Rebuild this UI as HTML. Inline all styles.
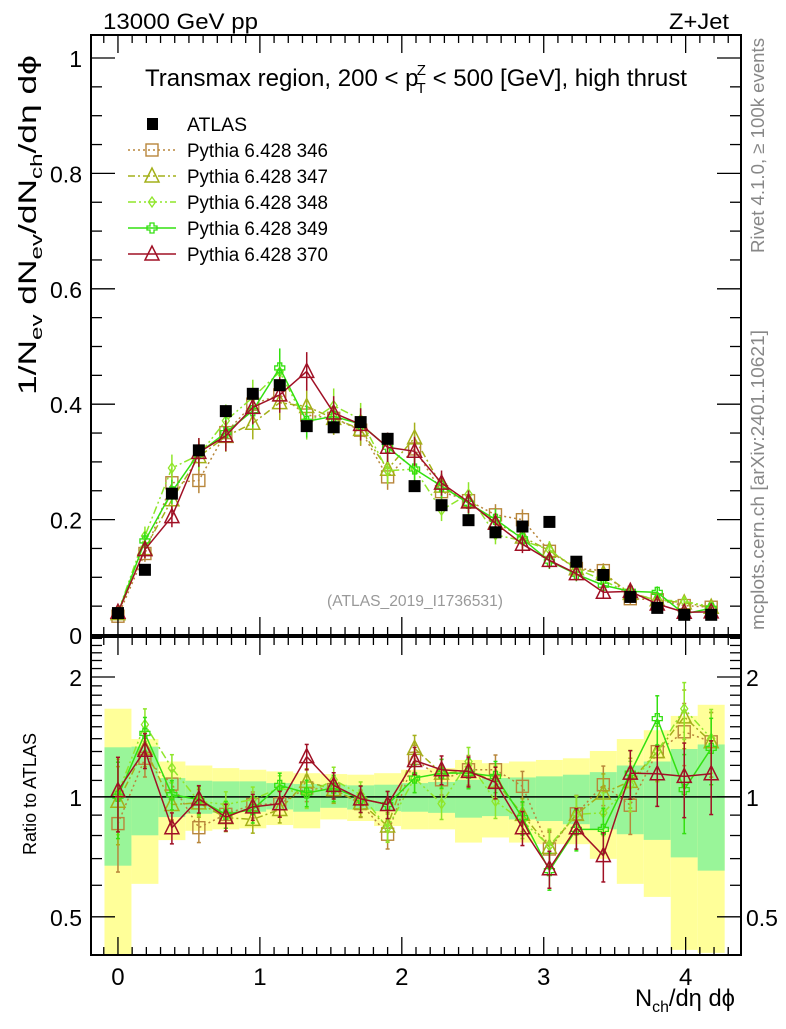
<!DOCTYPE html>
<html><head><meta charset="utf-8"><style>
body{margin:0;background:#fff;}
svg text{font-family:"Liberation Sans",sans-serif;}
</style></head><body>
<svg id="chart" width="786" height="1024" xmlns="http://www.w3.org/2000/svg"></svg>
<script>
const xs = [0,0.19,0.38,0.57,0.76,0.95,1.14,1.33,1.52,1.71,1.9,2.09,2.28,2.47,2.66,2.85,3.04,3.23,3.42,3.61,3.8,3.99,4.18];
const atlas = [0.038,0.113,0.245,0.32,0.388,0.418,0.433,0.362,0.36,0.369,0.34,0.258,0.225,0.199,0.178,0.188,0.196,0.127,0.104,0.066,0.047,0.035,0.035];
const ratio346 = [0.857,1.25,1.077,0.837,0.904,0.957,0.961,1.053,1.043,0.962,0.806,1.25,1.104,1.17,1.17,1.063,0.74,0.907,1.073,0.953,1.299,1.457,1.375];
const ratio347 = [0.975,1.324,0.957,0.966,0.887,0.878,0.93,1.094,1.043,0.966,0.845,1.324,1.147,1.159,1.094,0.904,0.747,0.904,1.023,1.094,1.299,1.588,1.375];
const ratio348 = [1.023,1.519,1.181,0.975,0.957,0.985,1.053,1.013,1.104,1.013,0.837,1.115,0.962,1.227,0.975,0.87,0.754,0.904,0.912,1.073,1.299,1.665,1.402];
const ratio349 = [1.004,1.443,1.013,0.985,0.904,0.93,1.069,1.023,1.053,0.99,0.957,1.115,1.147,1.147,1.126,0.887,0.653,0.829,0.829,1.147,1.572,1.043,1.324];
const ratio370 = [1.037,1.31,0.837,0.989,0.89,0.944,0.961,1.262,1.069,0.989,0.957,1.234,1.17,1.159,1.088,0.837,0.66,0.837,0.712,1.147,1.143,1.126,1.143];
const bandYellowUp = [1.665,1.397,1.227,1.199,1.181,1.17,1.159,1.147,1.141,1.137,1.147,1.17,1.181,1.238,1.215,1.227,1.238,1.25,1.304,1.397,1.47,1.597,1.703];
const bandYellowDn = [0.401,0.605,0.779,0.822,0.829,0.834,0.85,0.834,0.878,0.87,0.845,0.829,0.829,0.768,0.791,0.768,0.761,0.761,0.699,0.605,0.561,0.413,0.406];
const bandGreenUp = [1.332,1.337,1.115,1.098,1.094,1.094,1.083,1.077,1.073,1.069,1.073,1.083,1.09,1.104,1.115,1.119,1.126,1.137,1.154,1.199,1.227,1.319,1.354];
const bandGreenDn = [0.672,0.801,0.89,0.907,0.912,0.918,0.93,0.918,0.939,0.93,0.921,0.918,0.912,0.887,0.895,0.878,0.87,0.854,0.829,0.806,0.78,0.705,0.653];
const yTicks = [0,0.2,0.4,0.6,0.8,1];
const yTickLabels = ["0","0.2","0.4","0.6","0.8","1"];
const xTicks = [0,1,2,3,4];
const rTicks = [0.5,1,2];

const L=91,R=741,MT=35,MB=635,RT=637,RB=955;
const X0=-0.19,X1=4.39;
const sx=v=>L+(v-X0)/(X1-X0)*(R-L);
const sy=v=>MB-v*577;
const RTOP=2.52,RBOT=0.401;
const sr=v=>RB-(Math.log(v)-Math.log(RBOT))/(Math.log(RTOP)-Math.log(RBOT))*(RB-RT);
const svg=document.getElementById('chart');
const NS='http://www.w3.org/2000/svg';
function mk(tag,attrs,parent){const e=document.createElementNS(NS,tag);for(const k in attrs)e.setAttribute(k,attrs[k]);(parent||svg).appendChild(e);return e;}
function txt(s,attrs,parent){const e=mk('text',attrs,parent);e.textContent=s;return e;}

const gb=mk('g',{});


xs.forEach((x,i)=>{
  const xl=sx(x-0.095),xr=sx(x+0.095);
  const yu=sr(Math.min(bandYellowUp[i],RTOP)),yd=sr(Math.max(bandYellowDn[i],RBOT));
  const r1=mk('rect',{x:xl,y:yu,width:xr-xl,height:yd-yu,fill:'#ffff99'},gb);
  
  
  const gu=sr(bandGreenUp[i]),gd=sr(bandGreenDn[i]);
  const r2=mk('rect',{x:xl,y:gu,width:xr-xl,height:gd-gu,fill:'#99f599'},gb);
  
  
});
mk('line',{x1:L,x2:R,y1:sr(1),y2:sr(1),stroke:'#000','stroke-width':1.5});

const series=[
 {name:'346',r:ratio346,c:'#b8863b',dash:'2,3',m:'square'},
 {name:'347',r:ratio347,c:'#a4b01a',dash:'7,3,2,3',m:'tri'},
 {name:'348',r:ratio348,c:'#8fe62a',dash:'8,3,2,3,2,3',m:'diamond'},
 {name:'349',r:ratio349,c:'#33e010',dash:'',m:'cross'},
 {name:'370',r:ratio370,c:'#a01025',dash:'',m:'tri'}];
function marker(m,x,y,c,g,size){
  size=size||6;
  if(m==='square') return mk('rect',{x:x-size,y:y-size,width:2*size,height:2*size,fill:'none',stroke:c,'stroke-width':1.4},g);
  if(m==='tri') return mk('polygon',{points:`${x},${y-size-2} ${x-size-1},${y+size} ${x+size+1},${y+size}`,fill:'none',stroke:c,'stroke-width':1.5},g);
  if(m==='diamond') return mk('polygon',{points:`${x},${y-5} ${x-3.5},${y} ${x},${y+5} ${x+3.5},${y}`,fill:'none',stroke:c,'stroke-width':1.3},g);
  if(m==='cross') return mk('path',{d:`M${x-2},${y-5}h4v3h3v4h-3v3h-4v-3h-3v-4h3z`,fill:'none',stroke:c,'stroke-width':1.3},g);
}
series.forEach(s=>{
  const gm=mk('g',{});
  
  
  const gr=mk('g',{});
  
  
  const mv=s.r.map((r,i)=>r*atlas[i]);
  mk('polyline',{points:xs.map((x,i)=>sx(x)+','+sy(mv[i])).join(' '),fill:'none',stroke:s.c,'stroke-width':1.5,'stroke-dasharray':s.dash},gm);
  mk('polyline',{points:xs.map((x,i)=>sx(x)+','+sr(s.r[i])).join(' '),fill:'none',stroke:s.c,'stroke-width':1.5,'stroke-dasharray':s.dash},gr);
  xs.forEach((x,i)=>{
    const e=0.06*mv[i]+0.006;
    mk('line',{x1:sx(x),x2:sx(x),y1:sy(mv[i]+e),y2:sy(mv[i]-e),stroke:s.c,'stroke-width':1.5},gm);
    const re=e/atlas[i];
    const up=Math.min(s.r[i]+re,RTOP),dn=Math.max(s.r[i]-re,RBOT);
    mk('line',{x1:sx(x),x2:sx(x),y1:sr(up),y2:sr(dn),stroke:s.c,'stroke-width':1.5},gr);
    mk('line',{x1:sx(x)-2,x2:sx(x)+2,y1:sr(up),y2:sr(up),stroke:s.c,'stroke-width':1.5},gr);
    mk('line',{x1:sx(x)-2,x2:sx(x)+2,y1:sr(dn),y2:sr(dn),stroke:s.c,'stroke-width':1.5},gr);
    const p=marker(s.m,sx(x),sy(mv[i]),s.c,gm);
    
    
    const q=marker(s.m,sx(x),sr(s.r[i]),s.c,gr);
    
    
  });
});
const ga=mk('g',{});


xs.forEach((x,i)=>{
  const r=mk('rect',{x:sx(x)-6,y:sy(atlas[i])-6,width:12,height:12,fill:'#000'},ga);
  
  
});

mk('rect',{x:L,y:MT,width:R-L,height:MB-MT,fill:'none',stroke:'#000','stroke-width':2});
mk('rect',{x:L,y:RT,width:R-L,height:RB-RT,fill:'none',stroke:'#000','stroke-width':2});
for(let k=-1;k<=43;k++){
  const v=k/10; if(v<X0||v>X1) continue;
  const x=sx(v); const major=(k%10===0); const len=major?18:8;
  [[MB,-1],[MT,1],[RB,-1],[RT,1]].forEach(([y0,d])=>mk('line',{x1:x,x2:x,y1:y0,y2:y0+d*len,stroke:'#000','stroke-width':1.3}));
}
xTicks.forEach(v=>{const t=txt(String(v),{x:sx(v),y:985,'font-size':24,'text-anchor':'middle'});
 
 });
for(let k=0;k<=20;k++){
  const v=k*0.05; const y=sy(v); const len=(k%4===0)?24:11;
  mk('line',{x1:L,x2:L+len,y1:y,y2:y,stroke:'#000','stroke-width':1.3});
  mk('line',{x1:R,x2:R-len,y1:y,y2:y,stroke:'#000','stroke-width':1.3});
}
yTicks.forEach((v,i)=>{const t=txt(yTickLabels[i],{x:82,y:sy(v)+9,'font-size':23,'text-anchor':'end'});
 
 });
[0.5,0.6,0.7,0.8,0.9,1,1.1,1.2,1.3,1.4,1.5,1.6,1.7,1.8,1.9,2,2.1,2.2,2.3,2.4,2.5].forEach(v=>{
  const y=sr(v); const major=rTicks.includes(v); const len=major?24:11;
  mk('line',{x1:L,x2:L+len,y1:y,y2:y,stroke:'#000','stroke-width':1.3});
  mk('line',{x1:R,x2:R-len,y1:y,y2:y,stroke:'#000','stroke-width':1.3});
});
rTicks.forEach(v=>{
  const a=txt(String(v),{x:82,y:sr(v)+9,'font-size':23,'text-anchor':'end'});
  
  
  const b=txt(String(v),{x:746,y:sr(v)+9,'font-size':23});
  
  
});

const lg=mk('g',{});


const at=mk('rect',{x:147,y:118,width:11,height:12,fill:'#000'},lg);


const atT=txt('ATLAS',{x:187,y:131,'font-size':19,textLength:60,lengthAdjust:'spacingAndGlyphs'},lg);


series.forEach((s,i)=>{
  const y=150+i*26;
  mk('line',{x1:128,x2:176,y1:y,y2:y,stroke:s.c,'stroke-width':1.5,'stroke-dasharray':s.dash},lg);
  marker(s.m,152,y,s.c,lg);
  const t=txt('Pythia 6.428 '+s.name,{x:187,y:y+7,'font-size':19,textLength:141,lengthAdjust:'spacingAndGlyphs'},lg);
  
  
});
</script>
<svg width="786" height="1024" style="position:absolute;left:0;top:0" xmlns="http://www.w3.org/2000/svg">
<text x="103" y="29" font-size="22" textLength="155" lengthAdjust="spacingAndGlyphs" font-family="Liberation Sans, sans-serif">13000 GeV pp</text>
<text x="669" y="29" font-size="22" textLength="60" lengthAdjust="spacingAndGlyphs" font-family="Liberation Sans, sans-serif">Z+Jet</text>
<text x="145" y="86" font-size="24" textLength="542" lengthAdjust="spacingAndGlyphs" font-family="Liberation Sans, sans-serif">Transmax region, 200 &lt; p<tspan dx="-2" dy="7" font-size="15">T</tspan><tspan dx="-9" dy="-18" font-size="15">Z</tspan><tspan dy="11"> &lt; 500 [GeV], high thrust</tspan></text>
<text transform="translate(36,395) rotate(-90)" font-size="25" textLength="340" lengthAdjust="spacingAndGlyphs" font-family="Liberation Sans, sans-serif">1/N<tspan font-size="17" dy="6">ev</tspan><tspan dy="-6"> dN</tspan><tspan font-size="17" dy="6">ev</tspan><tspan dy="-6">/dN</tspan><tspan font-size="17" dy="6">ch</tspan><tspan dy="-6">/dη dϕ</tspan></text>
<text transform="translate(36,855) rotate(-90)" font-size="18" textLength="122" lengthAdjust="spacingAndGlyphs" font-family="Liberation Sans, sans-serif">Ratio to ATLAS</text>
<text x="635" y="1006" font-size="24" textLength="100" lengthAdjust="spacingAndGlyphs" font-family="Liberation Sans, sans-serif">N<tspan font-size="16" dy="6">ch</tspan><tspan dy="-6">/dη dϕ</tspan></text>
<text transform="translate(764,253) rotate(-90)" font-size="18" fill="#888" textLength="215" lengthAdjust="spacingAndGlyphs" font-family="Liberation Sans, sans-serif">Rivet 4.1.0, ≥ 100k events</text>
<text transform="translate(764,630) rotate(-90)" font-size="18" fill="#888" textLength="300" lengthAdjust="spacingAndGlyphs" font-family="Liberation Sans, sans-serif">mcplots.cern.ch [arXiv:2401.10621]</text>
<text x="327" y="606" font-size="16" fill="#999" textLength="176" lengthAdjust="spacingAndGlyphs" font-family="Liberation Sans, sans-serif">(ATLAS_2019_I1736531)</text>
</svg>
</body></html>
